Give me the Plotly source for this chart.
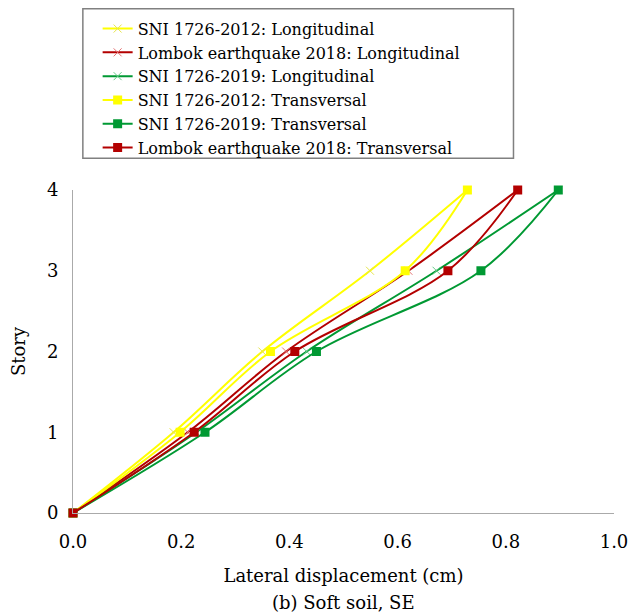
import plotly.graph_objects as go

story = [0, 1, 2, 3, 4]

sni2012_long = [0, 0.186, 0.350, 0.549, 0.729]
lombok_long = [0, 0.212, 0.394, 0.620, 0.822]
sni2019_long = [0, 0.228, 0.432, 0.672, 0.897]

sni2012_trans = [0, 0.198, 0.365, 0.614, 0.729]
sni2019_trans = [0, 0.244, 0.450, 0.754, 0.897]
lombok_trans = [0, 0.224, 0.410, 0.693, 0.822]

YEL = "#ffff00"
RED = "#b30000"
GRN = "#009933"

FONT = "DejaVu Serif"

series = [
    ("SNI 1726-2012: Longitudinal", sni2012_long, YEL, "x-thin", "#e6e64d", 8),
    ("Lombok earthquake 2018: Longitudinal", lombok_long, RED, "x-thin", "#e57373", 8),
    ("SNI 1726-2019: Longitudinal", sni2019_long, GRN, "x-thin", "#66cc88", 8),
    ("SNI 1726-2012: Transversal", sni2012_trans, YEL, "square", YEL, 9),
    ("SNI 1726-2019: Transversal", sni2019_trans, GRN, "square", GRN, 9),
    ("Lombok earthquake 2018: Transversal", lombok_trans, RED, "square", RED, 9),
]

fig = go.Figure()
for name, xs, col, sym, mcol, msz in series:
    marker = dict(symbol=sym, size=msz, color=mcol)
    if sym == "x-thin":
        marker["line"] = dict(color=mcol, width=1)
    fig.add_trace(go.Scatter(
        x=xs, y=story, name=name, mode="lines+markers",
        line=dict(color=col, width=2, shape="spline", smoothing=1.0),
        marker=marker, cliponaxis=False,
    ))

L, R, T, B = 73, 18, 187, 103
W, H = 640, 616
pw, ph = W - L - R, H - T - B

def px_x(p):
    return (p - L) / pw

def px_y(p):
    return (H - B - p) / ph

fig.add_shape(type="rect", xref="paper", yref="paper",
              x0=px_x(83), x1=px_x(520), y0=px_y(155), y1=px_y(4),
              line=dict(color="#808080", width=1.5), fillcolor="white", layer="below")

fig.add_annotation(text="(b) Soft soil, SE", xref="paper", yref="paper",
                   x=0.5, y=px_y(603), xanchor="center", yanchor="middle",
                   showarrow=False, font=dict(family=FONT, size=18, color="black"))

fig.update_layout(
    width=W, height=H,
    margin=dict(l=L, r=R, t=T, b=B),
    paper_bgcolor="white", plot_bgcolor="white",
    font=dict(family=FONT, size=18, color="black"),
    showlegend=True,
    legend=dict(x=px_x(98), y=px_y(7), xanchor="left", yanchor="top",
                bgcolor="rgba(0,0,0,0)", borderwidth=0,
                font=dict(family=FONT, size=16), tracegroupgap=0),
    xaxis=dict(range=[0, 1.0], tickvals=[0, 0.2, 0.4, 0.6, 0.8, 1.0],
               ticktext=["0.0", "0.2", "0.4", "0.6", "0.8", "1.0"],
               showgrid=False, zeroline=False, showline=True, linecolor="#aaaaaa", linewidth=1,
               ticks="", ticklabelstandoff=12,
               title=dict(text="Lateral displacement (cm)", standoff=18,
                          font=dict(family=FONT, size=18))),
    yaxis=dict(range=[0, 4], tickvals=[0, 1, 2, 3, 4],
               showgrid=False, zeroline=False, showline=True, linecolor="#aaaaaa", linewidth=1,
               ticks="", ticklabelstandoff=10,
               title=dict(text="Story", standoff=16, font=dict(family=FONT, size=18))),
)

fig.write_html("out.html")
